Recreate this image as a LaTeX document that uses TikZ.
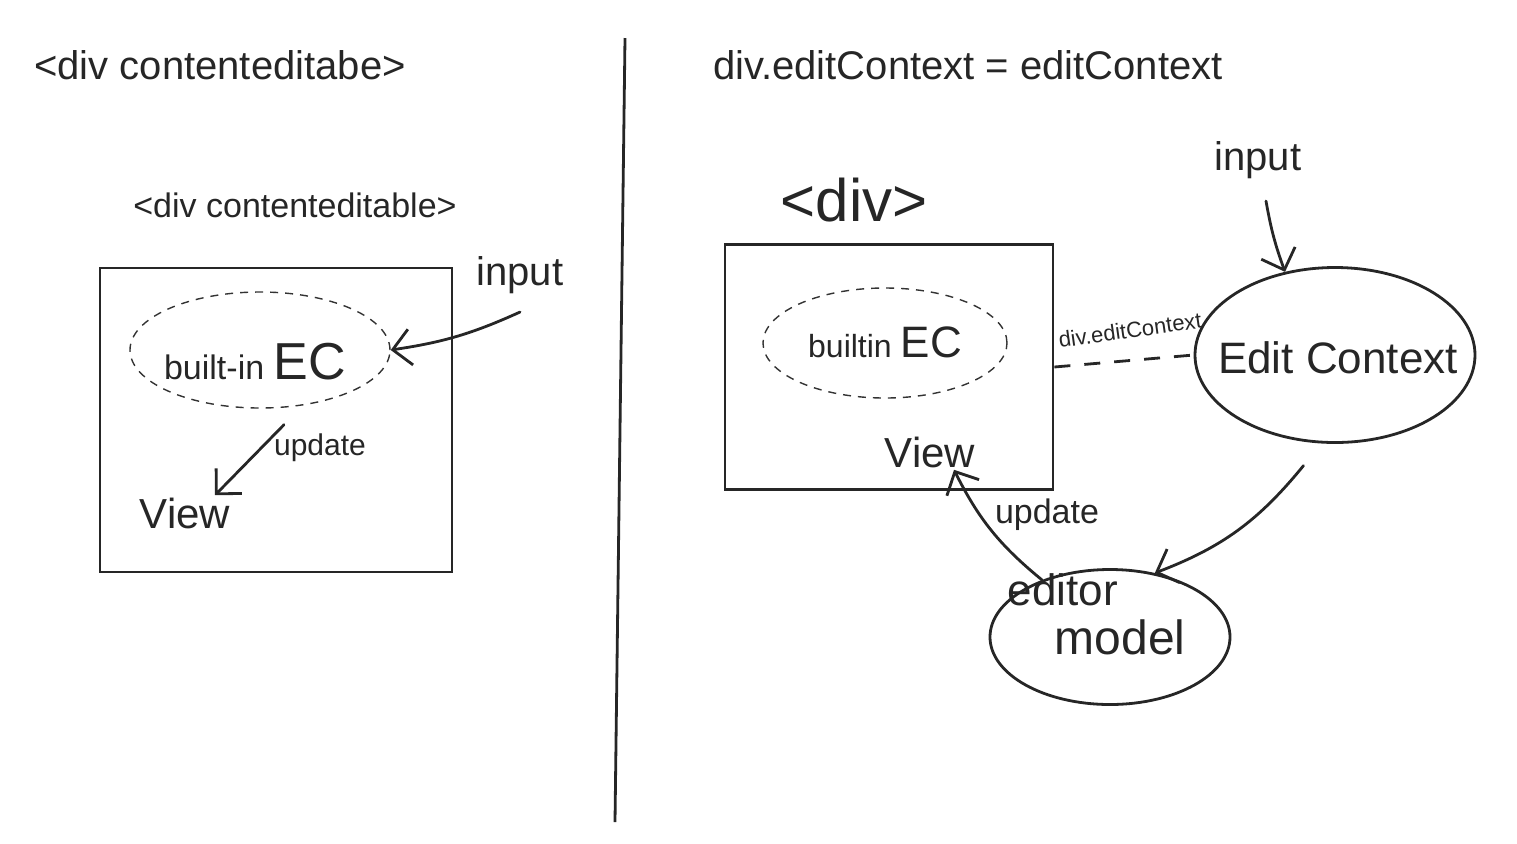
\documentclass[tikz,border=0pt]{standalone}
\usepackage{fontspec}
\setmainfont{Liberation Sans}
\usetikzlibrary{shapes.geometric,arrows.meta}
\newcommand\fsz[1]{\fontsize{#1}{#1}\selectfont}
\begin{document}
\begin{tikzpicture}[x=0.5pt,y=-0.5pt,
  stroke/.style={draw=black!85, line width=1.4pt},
  box/.style={stroke, rectangle, inner sep=0pt},
  ecell/.style={draw=black!80, ellipse, dash pattern=on 4pt off 3.5pt, line width=0.7pt, inner sep=0pt},
  blob/.style={stroke, ellipse, inner sep=0pt},
  arr/.style={stroke, -{Straight Barb[length=9pt,width=18pt]}, line cap=round},
  lbl/.style={inner sep=1pt, text=black!85},
]
\useasboundingbox (0,0) rectangle (1517,843);
% left panel
\node[lbl, font=\fsz{20pt}] (titleL) at (220,65) {<div contenteditabe>};
\node[lbl, font=\fsz{17pt}] (tagL) at (295,205) {<div contenteditable>};
\node[box, minimum width=176pt, minimum height=152pt] (boxL) at (276,420) {};
\node[ecell, minimum width=130pt, minimum height=58pt] (ecL) at (260,350) {};
\node[lbl] (ecLt) at (255,362) {\fsz{17pt}built-in \fsz{26pt}EC};
\node[lbl, font=\fsz{20pt}] (inL) at (520,275) {input};
\node[lbl, font=\fsz{15pt}] (updL) at (320,448) {update};
\node[lbl, font=\fsz{21pt}] (viewL) at (185,513) {View};
% divider
\coordinate (divTop) at (625,38);
\coordinate (divBot) at (615,822);
\draw[stroke] (divTop) -- (divBot);
% right panel
\node[lbl, font=\fsz{20pt}] (titleR) at (968,65) {div.editContext = editContext};
\node[lbl, font=\fsz{20pt}] (inR) at (1258,160) {input};
\node[lbl, font=\fsz{30pt}] (tagR) at (854,200) {<div>};
\node[box, minimum width=164pt, minimum height=122.5pt] (boxR) at (889,367) {};
\node[ecell, minimum width=122pt, minimum height=55pt] (ecR) at (885,343) {};
\node[lbl] (ecRt) at (885,342) {\fsz{16pt}builtin \fsz{22pt}EC};
\node[lbl, font=\fsz{21pt}] (viewR) at (930,452) {View};
\node[blob, minimum width=140pt, minimum height=87.5pt] (ctx) at (1335,355) {};
\node[lbl, font=\fsz{22pt}] (ctxt) at (1338,358) {Edit Context};
\node[lbl, font=\fsz{11pt}, rotate=8] (dlbl) at (1130,330) {div.editContext};
\node[blob, minimum width=120pt, minimum height=67.5pt] (model) at (1110,637) {};
\node[lbl, font=\fsz{22pt}] (edt) at (1063,590) {editor};
\node[lbl, font=\fsz{24pt}] (mdl) at (1120,637) {model};
\node[lbl, font=\fsz{17pt}] (updR) at (1047,515) {update};
% connectors
\draw[arr] ([yshift=-8pt]inL.south) to[bend left=8] (ecL.east);
\draw[arr] ([xshift=12pt,yshift=-8pt]ecL.south) -- ([xshift=15pt]viewL.north);
\draw[arr] ([xshift=4pt,yshift=-10pt]inR.south) to[bend right=5] (ctx.121);
\draw[stroke, dash pattern=on 8pt off 7pt] (boxR.east) -- (ctx.west);
\draw[arr] ([yshift=-12pt]ctx.250) to[bend left=15] (model.55);
\draw[arr] (model.140) to[bend left=12] ([xshift=12pt]viewR.south);
\end{tikzpicture}
\end{document}
